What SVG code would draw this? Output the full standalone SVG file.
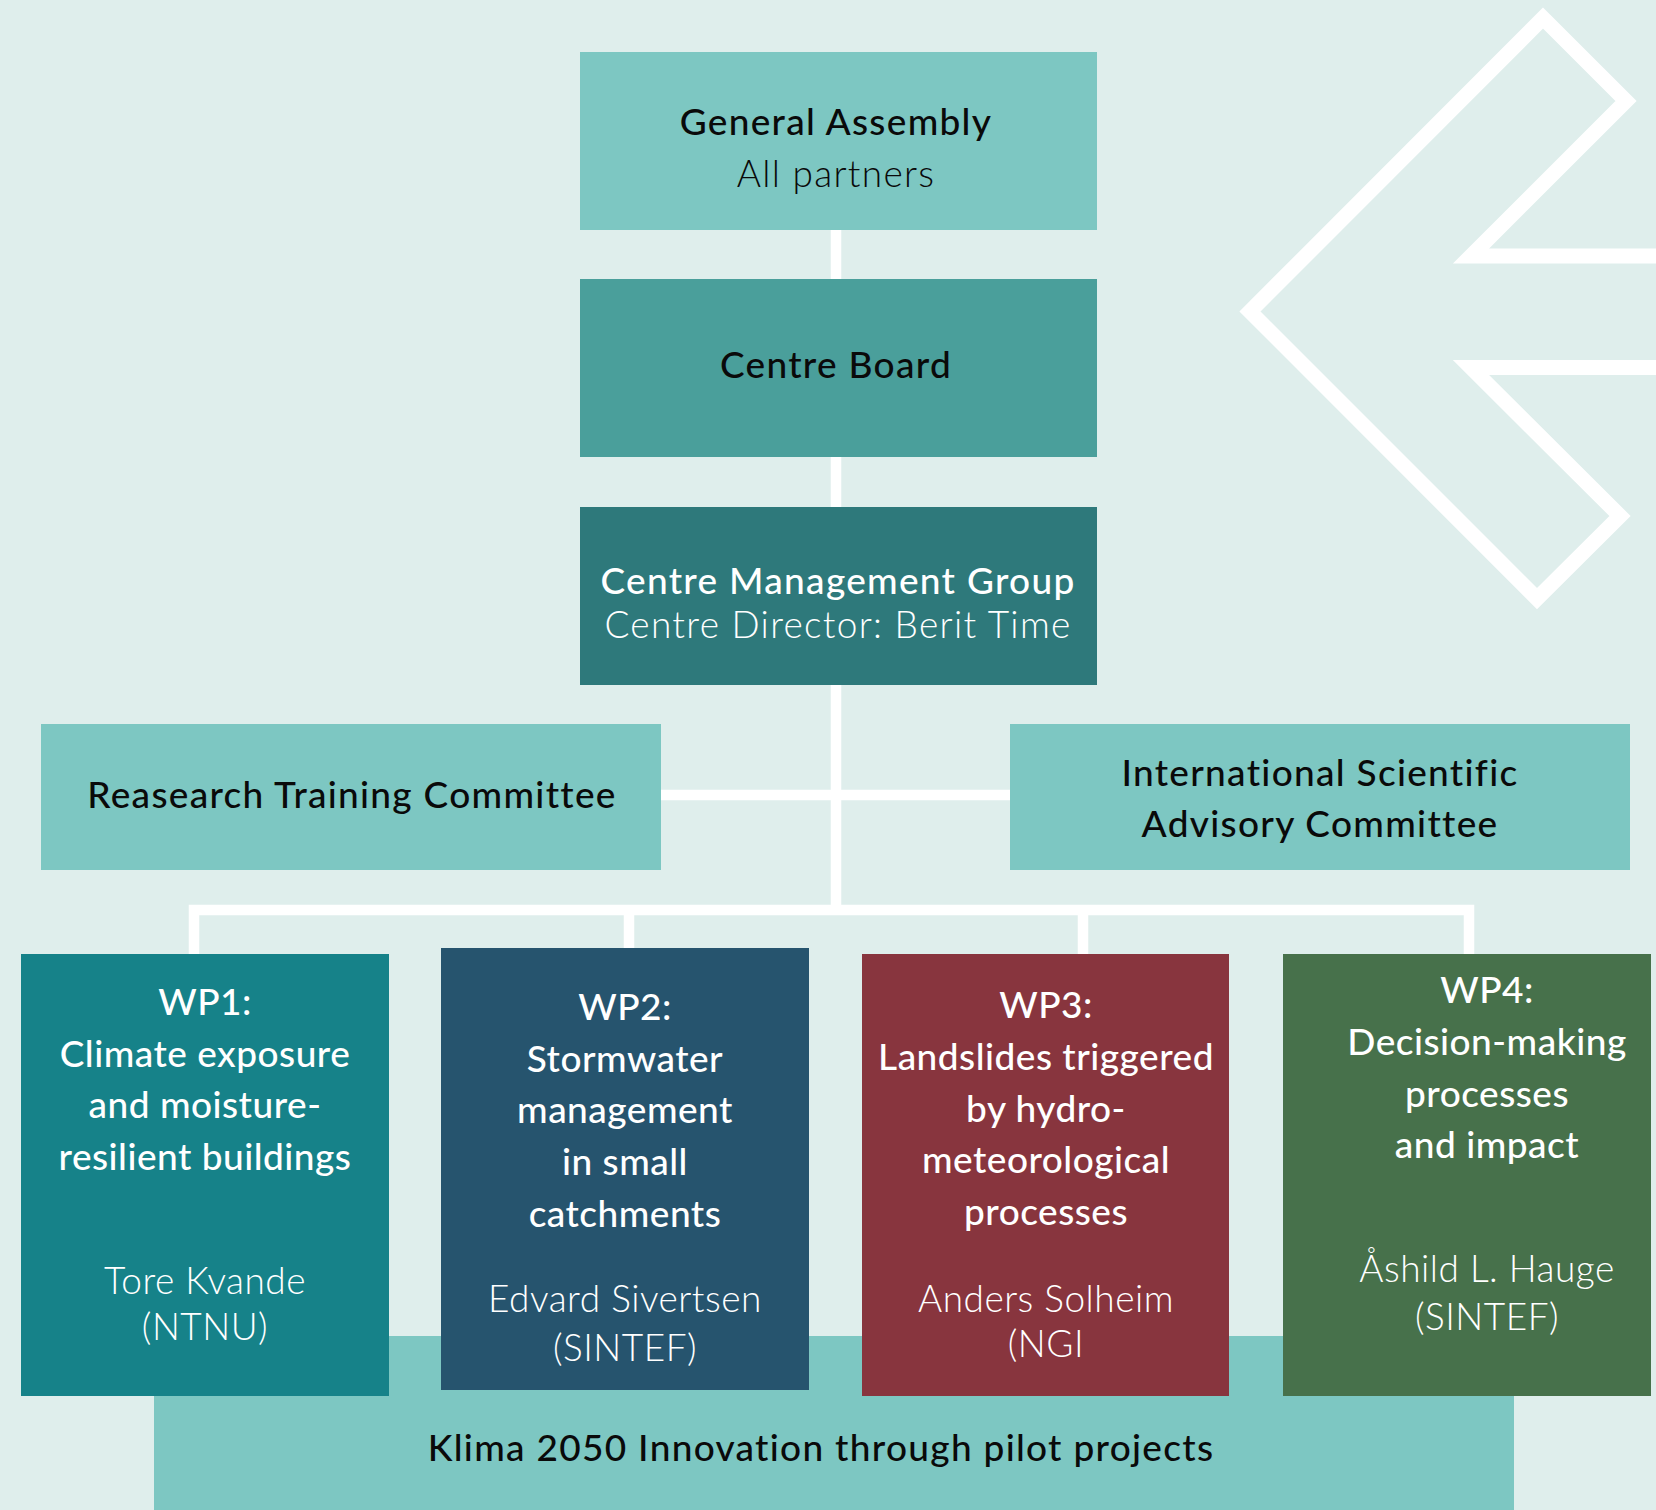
<svg xmlns="http://www.w3.org/2000/svg" width="1656" height="1510" viewBox="0 0 1656 1510">
<style>
text{font-family:Lato,"Noto Sans","Liberation Sans",sans-serif;font-size:37px;letter-spacing:1.3px;text-anchor:middle}
.t{font-weight:500}
.s{font-weight:300}
.dk{fill:#0a0a0a}
.wh{fill:#ffffff}
.wp text{letter-spacing:0.5px}
.ln{stroke:#ffffff;stroke-width:10.5;fill:none}
</style>
<rect width="1656" height="1510" fill="#dfeeec"/>
<path d="M1660,256 L1471,256 L1626,101 L1543,18 L1250,311.5 L1537,598.6 L1620,516 L1471,367.6 L1660,367.6" fill="none" stroke="#ffffff" stroke-width="15" stroke-miterlimit="10"/>
<g id="connectors">
<path class="ln" d="M836,230 V910"/>
<path class="ln" d="M661,795 H1010"/>
<path class="ln" d="M194,954 V910 H1469 V954"/>
<path class="ln" d="M629,910 V948"/>
<path class="ln" d="M1083,910 V954"/>
</g>
<g id="klima">
<rect x="154" y="1336" width="1360" height="174" fill="#7dc7c2"/>
<text class="t dk" x="821" y="1461">Klima 2050 Innovation through pilot projects</text>
</g>
<g id="general-assembly">
<rect x="580" y="52" width="517" height="178" fill="#7dc7c2"/>
<text class="t dk" x="836" y="135">General Assembly</text>
<text class="s dk" x="836" y="187">All partners</text>
</g>
<g id="centre-board">
<rect x="580" y="279" width="517" height="178" fill="#4a9f9b"/>
<text class="t dk" x="836" y="378">Centre Board</text>
</g>
<g id="management-group">
<rect x="580" y="507" width="517" height="178" fill="#2e797b"/>
<text class="t wh" x="838" y="594">Centre Management Group</text>
<text class="s wh" x="838" y="638">Centre Director: Berit Time</text>
</g>
<g id="research-training">
<rect x="41" y="724" width="620" height="146" fill="#7dc7c2"/>
<text class="t dk" x="352" y="808">Reasearch Training Committee</text>
</g>
<g id="isac">
<rect x="1010" y="724" width="620" height="146" fill="#7dc7c2"/>
<text class="t dk" x="1320" y="786">International Scientific</text>
<text class="t dk" x="1320" y="837">Advisory Committee</text>
</g>
<g id="wp1" class="wp">
<rect x="21" y="954" width="368" height="442" fill="#168289"/>
<text class="t wh" x="205" y="1015">WP1:</text>
<text class="t wh" x="205" y="1067">Climate exposure</text>
<text class="t wh" x="205" y="1118">and moisture-</text>
<text class="t wh" x="205" y="1170">resilient buildings</text>
<text class="s wh" x="205" y="1294">Tore Kvande</text>
<text class="s wh" x="205" y="1340">(NTNU)</text>
</g>
<g id="wp2" class="wp">
<rect x="441" y="948" width="368" height="442" fill="#26546e"/>
<text class="t wh" x="625" y="1020">WP2:</text>
<text class="t wh" x="625" y="1072">Stormwater</text>
<text class="t wh" x="625" y="1123">management</text>
<text class="t wh" x="625" y="1175">in small</text>
<text class="t wh" x="625" y="1227">catchments</text>
<text class="s wh" x="625" y="1312">Edvard Sivertsen</text>
<text class="s wh" x="625" y="1361">(SINTEF)</text>
</g>
<g id="wp3" class="wp">
<rect x="862" y="954" width="367" height="442" fill="#88353e"/>
<text class="t wh" x="1046" y="1018">WP3:</text>
<text class="t wh" x="1046" y="1070">Landslides triggered</text>
<text class="t wh" x="1046" y="1122">by hydro-</text>
<text class="t wh" x="1046" y="1173">meteorological</text>
<text class="t wh" x="1046" y="1225">processes</text>
<text class="s wh" x="1046" y="1312">Anders Solheim</text>
<text class="s wh" x="1046" y="1357">(NGI</text>
</g>
<g id="wp4" class="wp">
<rect x="1283" y="954" width="368" height="442" fill="#47714b"/>
<text class="t wh" x="1487" y="1003">WP4:</text>
<text class="t wh" x="1487" y="1055">Decision-making</text>
<text class="t wh" x="1487" y="1107">processes</text>
<text class="t wh" x="1487" y="1158">and impact</text>
<text class="s wh" x="1487" y="1282">Åshild L. Hauge</text>
<text class="s wh" x="1487" y="1330">(SINTEF)</text>
</g>
</svg>
